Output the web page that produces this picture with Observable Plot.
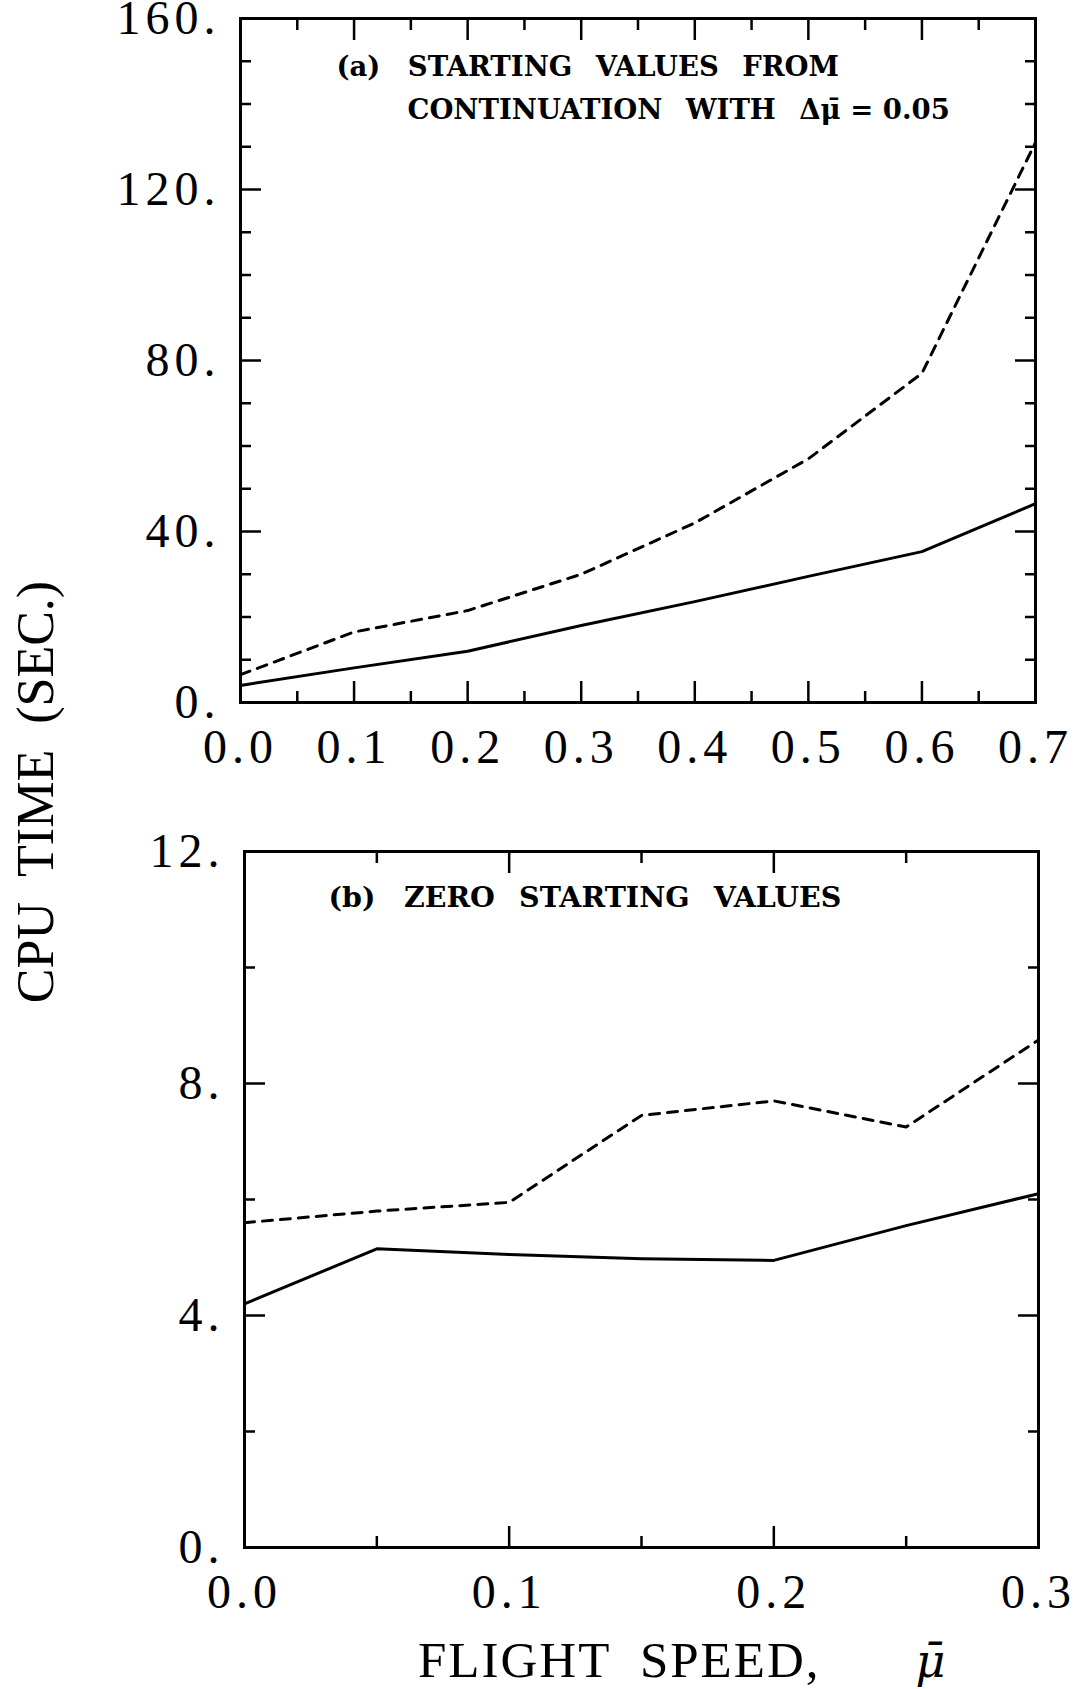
<!DOCTYPE html>
<html>
<head>
<meta charset="utf-8">
<script src="https://cdn.jsdelivr.net/npm/d3@7"></script>
<script src="https://cdn.jsdelivr.net/npm/@observablehq/plot@0.6"></script>
<style>
  html, body { margin: 0; padding: 0; background: #fff; }
  #wrap { position: relative; width: 1080px; height: 1689px; overflow: hidden; font-family: "Liberation Serif", serif; color: #000; }
  #top { position: absolute; left: 0; top: 0; }
  #bot { position: absolute; left: 0; top: 780px; }
  #ylab { position: absolute; left: 36px; top: 792px; transform: translate(-50%, -50%) rotate(-90deg); font-size: 52px; white-space: pre; line-height: 1; }
  #xlab { position: absolute; left: 418px; top: 1661px; transform: translateY(-50%); font-size: 51px; white-space: pre; line-height: 0.9; letter-spacing: 2px; }
  #xlab .mu { font-family: "DejaVu Serif", serif; font-style: italic; font-size: 46px; margin-left: 95px; }
</style>
</head>
<body>
<div id="wrap">
  <div id="top"></div>
  <div id="bot"></div>
  <div id="ylab">CPU  TIME  (SEC.)</div>
  <div id="xlab">FLIGHT  SPEED,<span class="mu">μ̄</span></div>
</div>
<script>
// ---- data ----
const speedA  = [0.0, 0.1, 0.2, 0.3, 0.4, 0.5, 0.6, 0.7];
const solidA  = [4.0, 8.1, 12.0, 18.0, 23.6, 29.5, 35.3, 46.5];
const dashedA = [6.5, 16.5, 21.5, 30.0, 42.0, 57.0, 77.0, 131.0];

const speedB  = [0.0, 0.05, 0.1, 0.15, 0.2, 0.25, 0.3];
const solidB  = [4.2, 5.15, 5.05, 4.98, 4.95, 5.55, 6.1];
const dashedB = [5.6, 5.8, 5.95, 7.45, 7.7, 7.25, 8.75];

// ---- ticks ----
const xMajorA = [0.0, 0.1, 0.2, 0.3, 0.4, 0.5, 0.6, 0.7];
const xMinorA = [0.05, 0.15, 0.25, 0.35, 0.45, 0.55, 0.65];
const yMajorA = [0, 40, 80, 120, 160];
const yMinorA = [10, 20, 30, 50, 60, 70, 90, 100, 110, 130, 140, 150];
const xLabelsA = ["0.0", "0.1", "0.2", "0.3", "0.4", "0.5", "0.6", "0.7"];
const yLabelsA = ["0.", "40.", "80.", "120.", "160."];

const xMajorB = [0.0, 0.1, 0.2, 0.3];
const xMinorB = [0.05, 0.15, 0.25];
const yMajorB = [0, 4, 8, 12];
const yMinorB = [2, 6, 10];
const xLabelsB = ["0.0", "0.1", "0.2", "0.3"];
const yLabelsB = ["0.", "4.", "8.", "12."];

const noteA1 = "(a)\u2003STARTING\u2002\u00a0VALUES\u2002\u00a0FROM";
const noteA2 = "CONTINUATION\u2002\u00a0WITH\u2002\u00a0Δμ̄ = 0.05";
const noteB  = "(b)\u2003ZERO\u2002\u00a0STARTING\u2002\u00a0VALUES";

const rowsA = speedA.map((s, i) => ({s, solid: solidA[i], dashed: dashedA[i]}));
const rowsB = speedB.map((s, i) => ({s, solid: solidB[i], dashed: dashedB[i]}));

function frameTicks(xMaj, xMin, yMaj, yMin) {
  const L = 21, S = 11;
  const o = {tickFormat: () => "", label: null, strokeWidth: 2.5};
  return [
    Plot.axisX({...o, ticks: xMaj, anchor: "bottom", tickSize: -L}),
    Plot.axisX({...o, ticks: xMin, anchor: "bottom", tickSize: -S}),
    Plot.axisX({...o, ticks: xMaj, anchor: "top", tickSize: -L}),
    Plot.axisX({...o, ticks: xMin, anchor: "top", tickSize: -S}),
    Plot.axisY({...o, ticks: yMaj, anchor: "left", tickSize: -L}),
    Plot.axisY({...o, ticks: yMin, anchor: "left", tickSize: -S}),
    Plot.axisY({...o, ticks: yMaj, anchor: "right", tickSize: -L}),
    Plot.axisY({...o, ticks: yMin, anchor: "right", tickSize: -S})
  ];
}

function labels(xMaj, xLab, yMaj, yLab) {
  return [
    Plot.axisX({ticks: xMaj, anchor: "bottom", tickSize: 0, tickPadding: 26,
      tickFormat: d => xLab[xMaj.indexOf(d)], fontSize: 48, label: null}),
    Plot.axisY({ticks: yMaj, anchor: "left", tickSize: 0, tickPadding: 20,
      tickFormat: d => yLab[yMaj.indexOf(d)], fontSize: 48, label: null})
  ];
}

const noteStyle = {frameAnchor: "top-left", textAnchor: "start", lineAnchor: "middle",
  fontWeight: "bold", fontFamily: "'DejaVu Serif', serif"};

const common = {
  width: 1080,
  style: {fontFamily: "'Liberation Serif', serif", background: "transparent", color: "#000", overflow: "visible"}
};

const chartA = Plot.plot({
  ...common,
  height: 780,
  marginTop: 18, marginBottom: 78, marginLeft: 240, marginRight: 45,
  x: {domain: [0, 0.7]},
  y: {domain: [0, 160]},
  marks: [
    Plot.line(rowsA, {x: "s", y: "solid", stroke: "#000", strokeWidth: 3}),
    Plot.line(rowsA, {x: "s", y: "dashed", stroke: "#000", strokeWidth: 3, strokeDasharray: "10,8"}),
    ...frameTicks(xMajorA, xMinorA, yMajorA, yMinorA),
    ...labels(xMajorA, xLabelsA, yMajorA, yLabelsA),
    Plot.frame({stroke: "#000", strokeWidth: 3}),
    Plot.text([noteA1], {...noteStyle, fontSize: 27.5, text: d => d, dx: 96, dy: 49}),
    Plot.text([noteA2], {...noteStyle, fontSize: 27.5, text: d => d, dx: 167, dy: 92})
  ]
});

const chartB = Plot.plot({
  ...common,
  height: 909,
  marginTop: 71, marginBottom: 142, marginLeft: 244, marginRight: 42,
  x: {domain: [0, 0.3]},
  y: {domain: [0, 12]},
  marks: [
    Plot.line(rowsB, {x: "s", y: "solid", stroke: "#000", strokeWidth: 3}),
    Plot.line(rowsB, {x: "s", y: "dashed", stroke: "#000", strokeWidth: 3, strokeDasharray: "10,8"}),
    ...frameTicks(xMajorB, xMinorB, yMajorB, yMinorB),
    ...labels(xMajorB, xLabelsB, yMajorB, yLabelsB),
    Plot.frame({stroke: "#000", strokeWidth: 3}),
    Plot.text([noteB], {...noteStyle, fontSize: 28.5, text: d => d, dx: 84, dy: 46})
  ]
});

// wider spacing on the numeric tick labels only
for (const c of [chartA, chartB]) {
  d3.select(c).selectAll('g[aria-label$="tick label"]').style("letter-spacing", "5px");
}

document.getElementById("top").appendChild(chartA);
document.getElementById("bot").appendChild(chartB);
</script>
</body>
</html>
